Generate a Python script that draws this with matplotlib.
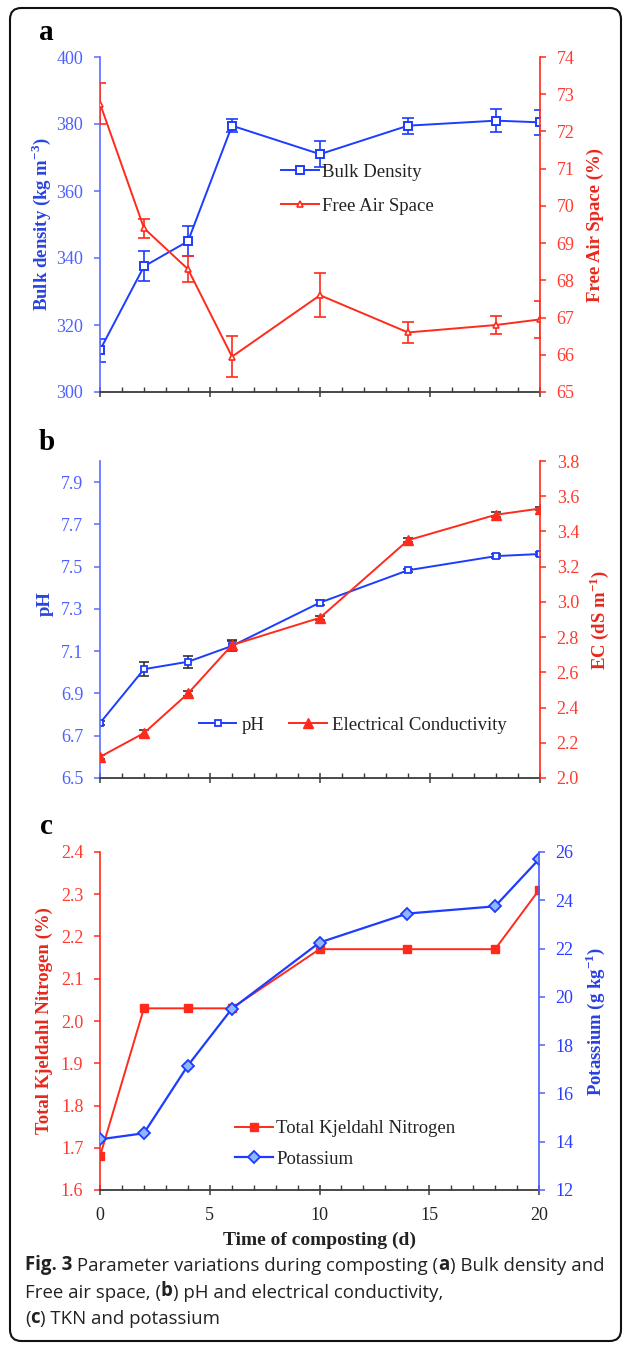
import numpy as np
import matplotlib.pyplot as plt
from matplotlib.patches import FancyBboxPatch
from matplotlib.ticker import MultipleLocator, FormatStrFormatter

plt.rcParams['font.family'] = ['Liberation Serif', 'DejaVu Serif']
plt.rcParams['mathtext.fontset'] = 'custom'
plt.rcParams['mathtext.rm'] = 'Liberation Serif'
plt.rcParams['mathtext.bf'] = 'Liberation Serif:bold'

# ---- data ----
days = [0, 2, 4, 6, 10, 14, 18, 20]

bulk_density = [312.5, 337.5, 345, 379.5, 371, 379.5, 381, 380.5]
bulk_err = [3.4, 4.5, 4.5, 2.0, 3.8, 2.4, 3.5, 3.8]
free_air = [72.75, 69.4, 68.3, 65.95, 67.6, 66.6, 66.8, 66.95]
free_air_err = [0.54, 0.25, 0.35, 0.56, 0.59, 0.29, 0.23, 0.5]

ph = [6.76, 7.015, 7.05, 7.125, 7.33, 7.483, 7.55, 7.56]
ph_err = [0.008, 0.034, 0.028, 0.025, 0.01, 0.008, 0.008, 0.01]
ec = [2.12, 2.255, 2.48, 2.755, 2.91, 3.35, 3.495, 3.53]
ec_err = [0.012, 0.02, 0.012, 0.03, 0.012, 0.01, 0.015, 0.01]

tkn = [1.68, 2.03, 2.03, 2.03, 2.17, 2.17, 2.17, 2.31]
potassium = [14.1, 14.35, 17.15, 19.5, 22.25, 23.45, 23.75, 25.7]

W, H = 627, 1345
BLUE = '#1c3cff'
BLUE_T = '#4d60ff'
RED = '#ff2a1c'
RED_T = '#ff3a30'
GREY = '#3a3a3a'


def rect(x0, y0, x1, y1):
    return [x0 / W, 1 - y1 / H, (x1 - x0) / W, (y1 - y0) / H]


def style(ax, tw, lcol, rcol, ltick, rtick, showx):
    ax.set_xlim(0, 20)
    ax.xaxis.set_major_locator(MultipleLocator(5))
    ax.xaxis.set_minor_locator(MultipleLocator(1))
    ax.tick_params(axis='x', which='major', direction='inout', length=7, width=1.1, color=GREY,
                   labelsize=13, pad=9, labelbottom=showx, labelcolor='#222')
    ax.tick_params(axis='x', which='minor', direction='in', length=3.5, width=1.0, color=GREY)
    ax.spines['bottom'].set_color(GREY)
    ax.spines['bottom'].set_linewidth(1.3)
    ax.spines['top'].set_visible(False)
    ax.spines['right'].set_visible(False)
    ax.spines['left'].set_color(lcol)
    ax.spines['left'].set_linewidth(1.2)
    ax.tick_params(axis='y', direction='out', length=4, width=1.1, color=lcol,
                   labelcolor=ltick, labelsize=13, pad=8)
    for s in ['left', 'top', 'bottom']:
        tw.spines[s].set_visible(False)
    tw.spines['right'].set_color(rcol)
    tw.spines['right'].set_linewidth(1.2)
    tw.tick_params(axis='y', direction='out', length=4, width=1.1, color=rcol,
                   labelcolor=rtick, labelsize=13, pad=8)
    ax.patch.set_visible(False)
    # place the y labels at fixed pixel columns (left centre ~44 px, right ~596 px)
    ax.yaxis.set_label_coords(-0.106, 0.5)
    tw.yaxis.set_label_coords(1.107, 0.5)


def legend(tw, axes, x, y, **kw):
    h = []
    for a in axes:
        h += a.get_legend_handles_labels()[0]
    tw.legend(h, [l.get_label() for l in h], loc='center left', bbox_to_anchor=(x / W, 1 - y / H),
              bbox_transform=fig.transFigure, frameon=False, borderpad=0, borderaxespad=0,
              handlelength=2.0, fontsize=13.5, labelcolor='#222', **kw)


fig = plt.figure(figsize=(W / 100, H / 100), dpi=100)

# ---------------- panel a ----------------
ax1 = fig.add_axes(rect(100, 57, 540, 392))
tw1 = ax1.twinx()
ax1.errorbar(days, bulk_density, yerr=bulk_err, fmt='none', ecolor=BLUE, elinewidth=1.2,
             capsize=4.5, capthick=1.2)
ax1.plot(days, bulk_density, color=BLUE, lw=1.4, marker='s', ms=5.5, mfc='white',
         mec=BLUE, mew=1.4, label='Bulk Density')
tw1.errorbar(days, free_air, yerr=free_air_err, fmt='none', ecolor=RED, elinewidth=1.2,
             capsize=4.5, capthick=1.2)
tw1.plot(days, free_air, color=RED, lw=1.4, marker='^', ms=5, mfc='white',
         mec=RED, mew=1.2, label='Free Air Space')
ax1.set_ylim(300, 400)
ax1.yaxis.set_major_locator(MultipleLocator(20))
tw1.set_ylim(65, 74)
tw1.yaxis.set_major_locator(MultipleLocator(1))
style(ax1, tw1, '#5a6cff', RED, BLUE_T, RED_T, False)
ax1.set_ylabel('Bulk density (kg m$^{\\mathbf{-3}}$)', color='#2a45dd', fontsize=13.5,
               fontweight='bold')
tw1.set_ylabel('Free Air Space (%)', color='#e8281c', fontsize=13.5, fontweight='bold')
legend(tw1, [ax1, tw1], 281, 189, handletextpad=0.2, labelspacing=0.9)

# ---------------- panel b ----------------
ax2 = fig.add_axes(rect(100, 461, 540, 778))
tw2 = ax2.twinx()
ax2.errorbar(days, ph, yerr=ph_err, fmt='none', ecolor='#333', elinewidth=1.2,
             capsize=3.5, capthick=1.2)
ax2.plot(days, ph, color=BLUE, lw=1.4, marker='s', ms=4.5, mfc='white',
         mec=BLUE, mew=1.3, label='pH')
tw2.errorbar(days, ec, yerr=ec_err, fmt='none', ecolor='#333', elinewidth=1.2,
             capsize=3.5, capthick=1.2)
tw2.plot(days, ec, color=RED, lw=1.4, marker='^', ms=6.5, mfc=RED, mec=RED,
         label='Electrical Conductivity')
ax2.set_ylim(6.5, 8.0)
ax2.set_yticks(np.arange(6.5, 7.95, 0.2))
ax2.yaxis.set_major_formatter(FormatStrFormatter('%.1f'))
tw2.set_ylim(2.0, 3.8)
tw2.set_yticks(np.arange(2.0, 3.85, 0.2))
tw2.yaxis.set_major_formatter(FormatStrFormatter('%.1f'))
style(ax2, tw2, '#5a6cff', RED, BLUE_T, RED_T, False)
ax2.set_ylabel('pH', color='#2a45dd', fontsize=13.5, fontweight='bold')
ax2.yaxis.set_label_coords(-0.106, 0.55)
tw2.set_ylabel('EC (dS m$^{\\mathbf{-1}}$)', color='#e8281c', fontsize=13.5, fontweight='bold')
legend(tw2, [ax2, tw2], 199, 725, handletextpad=0.3, columnspacing=1.3, ncol=2)

# ---------------- panel c ----------------
ax3 = fig.add_axes(rect(100, 852, 539, 1190))
tw3 = ax3.twinx()
ax3.plot(days, tkn, color=RED, lw=1.4, marker='s', ms=5.5, mfc=RED, mec=RED,
         label='Total Kjeldahl Nitrogen')
tw3.plot(days, potassium, color=BLUE, lw=1.6, marker='D', ms=6.5, mfc='#8fb6ff', mec=BLUE,
         mew=1.3, label='Potassium')
ax3.set_ylim(1.6, 2.4)
ax3.yaxis.set_major_locator(MultipleLocator(0.1))
ax3.yaxis.set_major_formatter(FormatStrFormatter('%.1f'))
tw3.set_ylim(12, 26)
tw3.yaxis.set_major_locator(MultipleLocator(2))
style(ax3, tw3, RED, '#4d60ff', RED_T, '#2a3cff', True)
tw3.yaxis.set_label_coords(1.1, 0.5)
ax3.set_ylabel('Total Kjeldahl Nitrogen (%)', color='#e8281c', fontsize=13.5, fontweight='bold')
tw3.set_ylabel('Potassium (g kg$^{\\mathbf{-1}}$)', color='#2a40e0', fontsize=13.5, fontweight='bold')
ax3.set_xlabel('Time of composting (d)', fontsize=14, fontweight='bold', color='#222', labelpad=5)
legend(tw3, [ax3, tw3], 235, 1144, handletextpad=0.2, labelspacing=0.7)

# panel letters
for letter, (px, py) in zip('abc', [(46, 33), (47, 443), (46, 826)]):
    fig.text(px / W, 1 - py / H, letter, fontsize=21, fontweight='bold', ha='center', va='center')

# caption, built piece by piece so bold and regular can share a line
caption = [
    [('Fig. 3', 'bold'), (' Parameter variations during composting (', 'normal'), ('a', 'bold'),
     (') Bulk density and', 'normal')],
    [('Free air space, (', 'normal'), ('b', 'bold'), (') pH and electrical conductivity,', 'normal')],
    [('(', 'normal'), ('c', 'bold'), (') TKN and potassium', 'normal')],
]
for i, line in enumerate(caption):
    prev = None
    for txt, w in line:
        kw = dict(fontsize=13.4, fontweight=w, family='Open Sans', color='#222', va='bottom', ha='left')
        if prev is None:
            prev = fig.text(25 / W, 1 - (1275 + 26.5 * i) / H, txt, **kw)
        else:
            prev = ax3.annotate(txt, xy=(1, 0), xycoords=prev, annotation_clip=False, **kw)

# rounded frame around the whole figure
frame = FancyBboxPatch((10 / W, 1 - 1341 / H), 611 / W, 1333 / H,
                       boxstyle='round,pad=0,rounding_size=0.018', transform=fig.transFigure,
                       fill=False, ec='#111', lw=1.5, mutation_aspect=W / H)
fig.add_artist(frame)

fig.savefig('out.png', dpi=100)
